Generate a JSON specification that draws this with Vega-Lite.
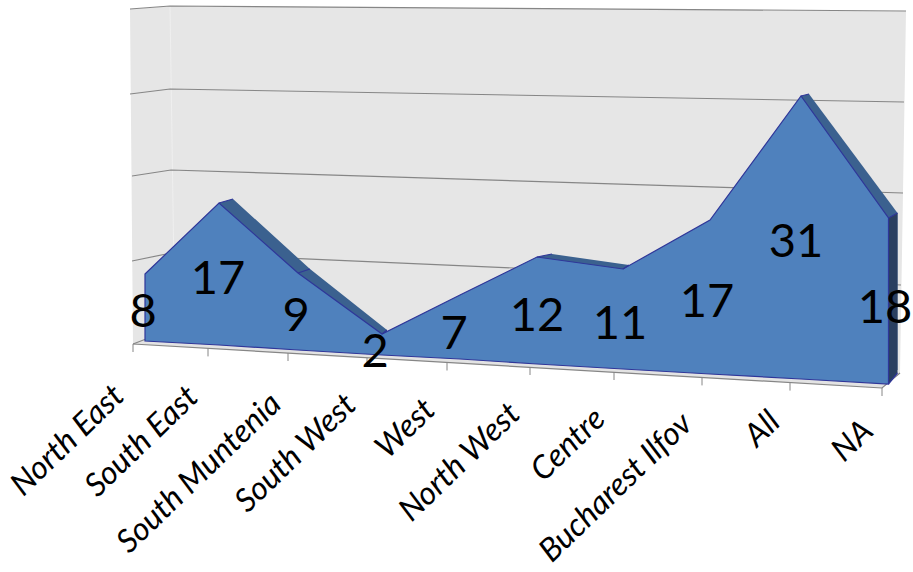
{
"$schema":"https://vega.github.io/schema/vega-lite/v6.json",
"width":913,"height":572,"padding":0,
"autosize":{"type":"none"},
"background":"white",
"config":{"view":{"stroke":null},"axis":{"disable":true}},
"datasets":{
"regions":[
{"region":"North East","value":8,"pos":0,"top":11.0,"base":4.3,"labelPos":-0.02,"labelY":7.15,"namePos":-0.26,"nameY":-0.7,"tickPos":-0.12,"tickTop":4.0,"tickEnd":3.2},
{"region":"South East","value":17,"pos":0.74,"top":18.1,"base":3.9,"labelPos":0.73,"labelY":10.45,"namePos":0.48,"nameY":-0.8,"tickPos":0.63,"tickTop":3.56,"tickEnd":2.76},
{"region":"South Muntenia","value":9,"pos":1.53,"top":11.1,"base":3.4,"labelPos":1.51,"labelY":6.75,"namePos":1.31,"nameY":-1.5,"tickPos":1.43,"tickTop":3.1,"tickEnd":2.3},
{"region":"South West","value":2,"pos":2.37,"top":5.0,"base":2.9,"labelPos":2.30,"labelY":3.15,"namePos":2.06,"nameY":-1.6,"tickPos":2.22,"tickTop":2.6,"tickEnd":1.8},
{"region":"West","value":7,"pos":3.15,"top":8.9,"base":2.5,"labelPos":3.09,"labelY":4.95,"namePos":2.85,"nameY":-2.1,"tickPos":3.02,"tickTop":2.15,"tickEnd":1.35},
{"region":"North West","value":12,"pos":3.92,"top":12.7,"base":2.0,"labelPos":3.92,"labelY":6.75,"namePos":3.70,"nameY":-2.5,"tickPos":3.85,"tickTop":1.7,"tickEnd":0.9},
{"region":"Centre","value":11,"pos":4.78,"top":11.5,"base":1.5,"labelPos":4.75,"labelY":5.95,"namePos":4.55,"nameY":-3.0,"tickPos":4.69,"tickTop":1.2,"tickEnd":0.4},
{"region":"Bucharest Ilfov","value":17,"pos":5.65,"top":16.4,"base":1.0,"labelPos":5.62,"labelY":8.15,"namePos":5.42,"nameY":-3.5,"tickPos":5.57,"tickTop":0.66,"tickEnd":-0.14},
{"region":"All","value":31,"pos":6.56,"top":28.8,"base":0.5,"labelPos":6.51,"labelY":14.15,"namePos":6.30,"nameY":-3.3,"tickPos":6.45,"tickTop":0.14,"tickEnd":-0.66},
{"region":"NA","value":18,"pos":7.435,"top":16.6,"base":0,"labelPos":7.40,"labelY":7.55,"namePos":7.23,"nameY":-4.2,"tickPos":7.37,"tickTop":-0.4,"tickEnd":-1.2}
],
"wall":[
{"pos":-0.15,"top":37.5,"base":37.5},
{"pos":-0.12,"top":37.5,"base":3.9},
{"pos":0.25,"top":37.8,"base":4.5},
{"pos":7.55,"top":37.3,"base":1.1},
{"pos":7.61,"top":37.3,"base":37.3}
],
"floor":[
{"pos":-0.12,"top":4.0,"base":4.0},
{"pos":0.01,"top":4.5,"base":3.92},
{"pos":7.37,"top":1.2,"base":-0.4},
{"pos":7.55,"top":1.1,"base":1.1}
],
"lines":[
{"g":"g1","pos":-0.15,"y":37.5},{"g":"g1","pos":0.25,"y":37.8},{"g":"g1","pos":7.61,"y":37.3},
{"g":"g2","pos":-0.15,"y":29.0},{"g":"g2","pos":0.25,"y":29.5},{"g":"g2","pos":7.59,"y":28.2},
{"g":"g3","pos":-0.13,"y":20.8},{"g":"g3","pos":0.26,"y":21.4},{"g":"g3","pos":7.58,"y":19.1},
{"g":"g4","pos":-0.13,"y":12.3},{"g":"g4","pos":0.26,"y":13.1},{"g":"g4","pos":7.56,"y":9.9},
{"g":"f1","pos":-0.12,"y":4.0},{"g":"f1","pos":7.37,"y":-0.4},{"g":"f1","pos":7.55,"y":1.1},
{"g":"f2","pos":-0.12,"y":4.0},{"g":"f2","pos":0.01,"y":4.5}
],
"seam":[{"g":"s","pos":0.25,"y":37.8},{"g":"s","pos":0.30,"y":4.5}],
"depth":[
{"g":"a","pos":0.74,"top":18.1,"base":3.9},{"g":"a","pos":0.88,"top":18.5,"base":3.9},{"g":"a","pos":1.65,"top":11.5,"base":3.9},{"g":"a","pos":2.42,"top":5.4,"base":3.9},
{"g":"b","pos":3.92,"top":12.7,"base":3.4},{"g":"b","pos":4.07,"top":13.0,"base":3.4},{"g":"b","pos":4.84,"top":11.9,"base":3.4},
{"g":"c","pos":6.56,"top":28.8,"base":1.4},{"g":"c","pos":6.64,"top":29.0,"base":1.4},{"g":"c","pos":7.525,"top":17.1,"base":1.4}
],
"side":[{"pos":7.435,"top":16.6,"base":0},{"pos":7.525,"top":17.1,"base":1.1}],
"edges":[
{"g":"a","pos":0.74,"y":18.1},{"g":"a","pos":0.88,"y":18.5},
{"g":"b","pos":1.53,"y":11.1},{"g":"b","pos":1.65,"y":11.5},
{"g":"c","pos":2.37,"y":5.0},{"g":"c","pos":2.42,"y":5.4},
{"g":"d","pos":3.92,"y":12.7},{"g":"d","pos":4.07,"y":13.0},
{"g":"e","pos":4.78,"y":11.5},{"g":"e","pos":4.84,"y":11.9},
{"g":"f","pos":6.56,"y":28.8},{"g":"f","pos":6.64,"y":29.0},
{"g":"h","pos":7.435,"y":16.6},{"g":"h","pos":7.525,"y":17.1},
{"g":"i","pos":7.435,"y":0},{"g":"i","pos":7.525,"y":1.1}
]
},
"encoding":{
"x":{"field":"pos","type":"quantitative","scale":{"domain":[-1.45,7.68],"nice":false,"zero":false},"axis":null},
"y":{"field":"top","type":"quantitative","scale":{"domain":[-18.8,38.4],"nice":false,"zero":false},"axis":null},
"y2":{"field":"base"}
},
"layer":[
{"data":{"name":"wall"},"mark":{"type":"area","fill":"#e6e6e6","interpolate":"linear"}},
{"data":{"name":"seam"},"mark":{"type":"line","stroke":"#efefef","strokeWidth":1},"encoding":{"y":{"field":"y","type":"quantitative","axis":null},"y2":null,"detail":{"field":"g"}}},
{"data":{"name":"floor"},"mark":{"type":"area","fill":"#e3e3e3"}},
{"data":{"name":"lines"},"mark":{"type":"line","stroke":"#868686","strokeWidth":1.2},"encoding":{"y":{"field":"y","type":"quantitative","axis":null},"y2":null,"detail":{"field":"g"}}},
{"data":{"name":"regions"},"mark":{"type":"rule","stroke":"#868686","strokeWidth":1},"encoding":{"x":{"field":"tickPos","type":"quantitative","axis":null},"y":{"field":"tickTop","type":"quantitative","axis":null},"y2":{"field":"tickEnd"}}},
{"data":{"name":"depth"},"mark":{"type":"area","fill":"#3b618f"},"encoding":{"detail":{"field":"g"}}},
{"data":{"name":"side"},"mark":{"type":"area","fill":"#2a3f60"}},
{"data":{"name":"regions"},"mark":{"type":"area","fill":"#4f81bd","stroke":"#2f3699","strokeWidth":1.2}},
{"data":{"name":"edges"},"mark":{"type":"line","stroke":"#2f3699","strokeWidth":1.2},"encoding":{"y":{"field":"y","type":"quantitative","axis":null},"y2":null,"detail":{"field":"g"}}},
{"data":{"name":"regions"},"mark":{"type":"text","font":"Lato","fontSize":47,"fill":"#000000","align":"center","baseline":"middle"},"encoding":{"x":{"field":"labelPos","type":"quantitative","axis":null},"y":{"field":"labelY","type":"quantitative","axis":null},"y2":null,"text":{"field":"value","type":"quantitative"}}},
{"data":{"name":"regions"},"mark":{"type":"text","font":"Lato","fontStyle":"italic","fontSize":32,"fill":"#000000","align":"right","baseline":"middle","angle":316},"encoding":{"x":{"field":"namePos","type":"quantitative","axis":null},"y":{"field":"nameY","type":"quantitative","axis":null},"y2":null,"text":{"field":"region","type":"nominal"}}}
]
}
